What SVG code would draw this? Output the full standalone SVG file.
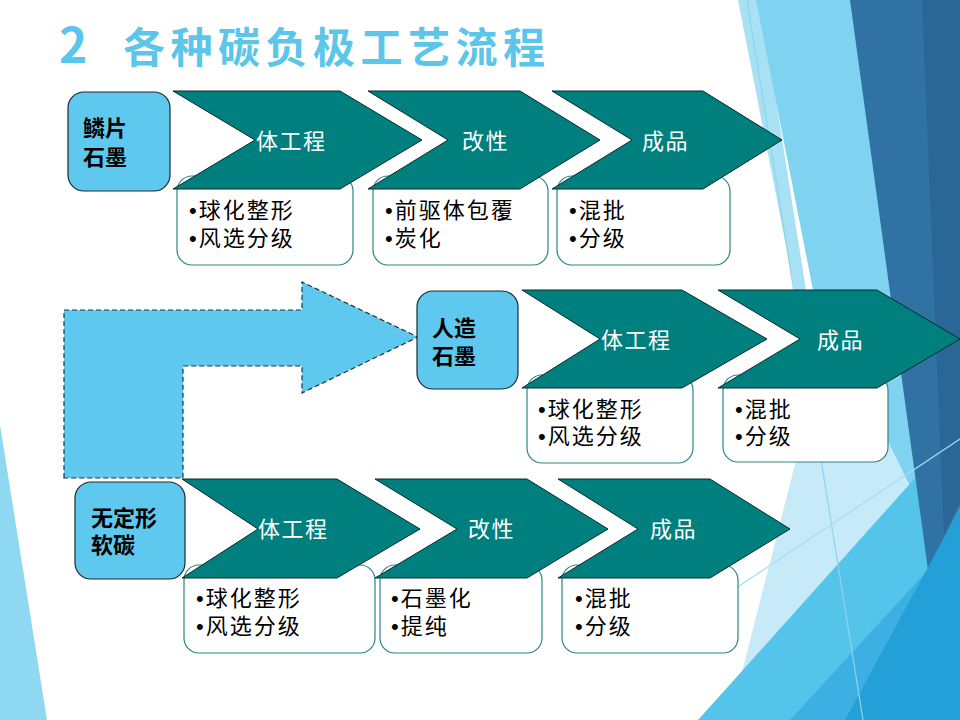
<svg xmlns="http://www.w3.org/2000/svg" width="960" height="720" viewBox="0 0 960 720">
<style>
.title{font-family:"Noto Sans CJK SC","Liberation Sans",sans-serif;font-weight:bold;fill:#5bc5ea;}
.node rect{fill:#5ec8ee;stroke:#1b2a33;stroke-width:1.2;}
.nlabel{font-family:"Liberation Sans","Noto Sans CJK SC",sans-serif;font-weight:bold;font-size:22px;fill:#000;}
.chev{fill:#007f7f;stroke:#0b2b2b;stroke-width:1;}
.clabel{font-family:"Noto Sans CJK SC",sans-serif;font-size:22px;fill:#fff;letter-spacing:1.5px;}
.tbox{fill:#fff;stroke:#2e8585;stroke-width:1.2;}
.blabel{font-family:"Liberation Sans","Noto Sans CJK SC",sans-serif;font-size:22px;fill:#000;letter-spacing:2px;}
.bend{fill:#5ec8ee;stroke:#1f3540;stroke-width:1.2;stroke-dasharray:5 3;}
</style>
<g id="background">
<polygon points="0,425 47,720 0,720" fill="#8fd8f2"/>
<polygon points="738,0 760,0 806,290 820,420" fill="#a8e0f4"/>
<polygon points="756,0 960,0 960,720 900,720 813,290" fill="#7fd3f0"/>
<polygon points="805,425 880,425 912,490 742,672" fill="#c6eaf7"/>
<polygon points="698,720 960,428 960,720" fill="#55c4ea"/>
<polygon points="850,0 960,0 960,507 928,570" fill="#2f72a3"/>
<polygon points="922,0 960,0 960,500 944,535" fill="#2a6696"/>
<polygon points="790,720 928,570 960,508 960,720" fill="#3cb0e2"/>
<polygon points="845,720 960,508 960,720" fill="#22a0d7"/>
<line x1="747" y1="0" x2="863" y2="720" stroke="#8fd3ee" stroke-width="1.2"/>
<line x1="700" y1="612" x2="960" y2="439" stroke="#a6def2" stroke-width="1.2"/>
</g>
<text class="title" y="63" font-size="42"><tspan x="59" font-size="48">2</tspan><tspan x="123" letter-spacing="5.5">各种碳负极工艺流程</tspan></text>
<g id="connectors">
<path class="bend" d="M64,478 L64,310 L302,310 L302,282 L418,337 L302,393 L302,366 L183,366 L183,478 Z"/>
</g>
<g id="row1-boxes">
<g id="r1b1"><rect class="tbox" x="177" y="176" width="176" height="89" rx="15"/><text class="blabel" x="189" y="218">•球化整形</text><text class="blabel" x="189" y="246">•风选分级</text></g>
<g id="r1b2"><rect class="tbox" x="373" y="176" width="175" height="89" rx="15"/><text class="blabel" x="385" y="218">•前驱体包覆</text><text class="blabel" x="385" y="246">•炭化</text></g>
<g id="r1b3"><rect class="tbox" x="557" y="176" width="173" height="89" rx="15"/><text class="blabel" x="569" y="218">•混批</text><text class="blabel" x="569" y="246">•分级</text></g>
</g>
<g id="row2-boxes">
<g id="r2b1"><rect class="tbox" x="527" y="375" width="166" height="88" rx="15"/><text class="blabel" x="538" y="417">•球化整形</text><text class="blabel" x="538" y="444">•风选分级</text></g>
<g id="r2b2"><rect class="tbox" x="723" y="375" width="165" height="87" rx="15"/><text class="blabel" x="735" y="417">•混批</text><text class="blabel" x="735" y="444">•分级</text></g>
</g>
<g id="row3-boxes">
<g id="r3b1"><rect class="tbox" x="184" y="565" width="191" height="88" rx="15"/><text class="blabel" x="196" y="606">•球化整形</text><text class="blabel" x="196" y="634">•风选分级</text></g>
<g id="r3b2"><rect class="tbox" x="380" y="565" width="162" height="88" rx="15"/><text class="blabel" x="391" y="606">•石墨化</text><text class="blabel" x="391" y="634">•提纯</text></g>
<g id="r3b3"><rect class="tbox" x="562" y="565" width="176" height="88" rx="15"/><text class="blabel" x="575" y="606">•混批</text><text class="blabel" x="575" y="634">•分级</text></g>
</g>
<g id="row1-chevrons">
<g id="r1c1"><polygon class="chev" points="173,91 340,91 422,140 340,189 173,189 255,140"/><text class="clabel" x="256" y="149">体工程</text></g>
<g id="r1c2"><polygon class="chev" points="368,91 520,91 600,140 520,189 368,189 448,140"/><text class="clabel" x="462" y="149">改性</text></g>
<g id="r1c3"><polygon class="chev" points="552,91 703,91 782,140 703,189 552,189 632,140"/><text class="clabel" x="642" y="149">成品</text></g>
</g>
<g id="row2-chevrons">
<g id="r2c1"><polygon class="chev" points="522,290 682,290 767,339 682,388 522,388 600,339"/><text class="clabel" x="601" y="348">体工程</text></g>
<g id="r2c2"><polygon class="chev" points="718,290 877,290 960,339 877,388 718,388 800,339"/><text class="clabel" x="817" y="348">成品</text></g>
</g>
<g id="row3-chevrons">
<g id="r3c1"><polygon class="chev" points="182,479 337,479 420,529 337,578 182,578 258,529"/><text class="clabel" x="258" y="537">体工程</text></g>
<g id="r3c2"><polygon class="chev" points="375,479 527,479 608,529 527,578 375,578 457,529"/><text class="clabel" x="468" y="537">改性</text></g>
<g id="r3c3"><polygon class="chev" points="558,479 710,479 790,529 710,578 558,578 638,529"/><text class="clabel" x="650" y="537">成品</text></g>
</g>
<g id="node-flake" class="node"><rect x="68" y="92" width="102" height="99" rx="16"/><text class="nlabel" x="83" y="136">鳞片</text><text class="nlabel" x="83" y="165">石墨</text></g>
<g id="node-artificial" class="node"><rect x="417" y="291" width="101" height="98" rx="16"/><text class="nlabel" x="432" y="336">人造</text><text class="nlabel" x="432" y="364">石墨</text></g>
<g id="node-soft" class="node"><rect x="75" y="482" width="110" height="97" rx="16"/><text class="nlabel" x="91" y="526">无定形</text><text class="nlabel" x="91" y="553">软碳</text></g>
</svg>
